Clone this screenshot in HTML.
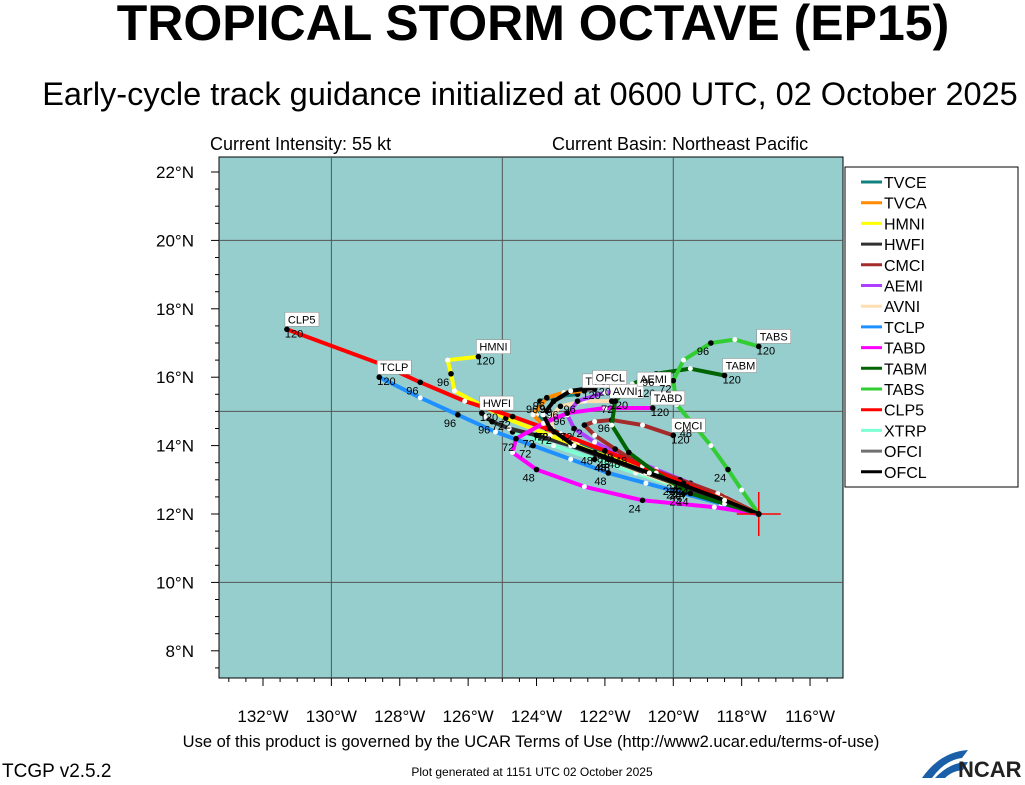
<!DOCTYPE html>
<html><head><meta charset="utf-8"><style>
body{margin:0;background:#fff;width:1025px;height:780px;overflow:hidden;font-family:"Liberation Sans",sans-serif}
svg text{font-family:"Liberation Sans",sans-serif}
</style></head><body>
<svg id="chart" width="1025" height="780" viewBox="0 0 1025 780">
<text x="533" y="40" text-anchor="middle" font-size="50" font-weight="bold">TROPICAL STORM OCTAVE (EP15)</text>
<text x="530" y="105" text-anchor="middle" font-size="32.5">Early-cycle track guidance initialized at 0600 UTC, 02 October 2025</text>
<text x="210" y="150" font-size="18">Current Intensity: 55 kt</text>
<text x="552" y="150" font-size="18">Current Basin: Northeast Pacific</text>
<rect x="219" y="157" width="624" height="521" fill="#96cece" stroke="#000"/>
<g id="grid"></g><g id="axes"></g><g id="tracks"></g><g id="labels"></g>
<g id="legend"><rect x="845" y="167" width="173" height="320" fill="#fff" stroke="#000"/></g>
<text x="531" y="747" text-anchor="middle" font-size="16.5">Use of this product is governed by the UCAR Terms of Use (http://www2.ucar.edu/terms-of-use)</text>
<text x="2" y="777" font-size="19">TCGP v2.5.2</text>
<text x="532" y="776" text-anchor="middle" font-size="12">Plot generated at 1151 UTC   02 October 2025</text>
<g><path d="M922 778 Q940 752 968 750 L962 758 Q945 760 932 778Z" fill="#1a5fa8"/><path d="M935 778 Q950 762 968 762 L963 770 Q952 771 945 778Z" fill="#1a5fa8"/><text x="958" y="777" font-size="22" font-weight="bold" fill="#222">NCAR</text></g>
</svg>
<script>
const names=["TVCE","TVCA","HMNI","HWFI","CMCI","AEMI","AVNI","TCLP","TABD","TABM","TABS","CLP5","XTRP","OFCI","OFCL"];
const colors=["#138080","#ff8c00","#ffff00","#303030","#a52a2a","#b040ff","#ffdeb0","#1e90ff","#ff00ff","#006400","#32cd32","#ff0000","#7fffd4","#707070","#000000"];
const lonTVCE=[117.5,118.6,119.7,120.8,121.8,122.8,123.6,124.0,123.9,123.4,122.8];
const latTVCE=[12,12.4,12.8,13.2,13.7,14.1,14.5,14.9,15.3,15.45,15.5];
const lonTVCA=[117.5,118.6,119.7,120.8,121.9,122.9,123.7,124.1,123.7,123.2,122.6];
const latTVCA=[12,12.4,12.8,13.2,13.6,14.0,14.5,14.9,15.4,15.55,15.6];
const lonHMNI=[117.5,118.7,119.9,121.1,122.3,123.6,124.9,126.4,126.5,126.6,125.7];
const latHMNI=[12,12.5,12.9,13.4,13.8,14.3,14.8,15.6,16.1,16.5,16.6];
const lonHWFI=[117.5,118.6,119.7,120.8,121.9,123.0,124.0,124.8,125.3,125.5,125.6];
const latHWFI=[12,12.4,12.8,13.2,13.6,14.0,14.3,14.5,14.7,14.85,14.95];
const lonCMCI=[117.5,118.7,119.8,120.9,121.7,122.3,122.6,122.3,121.8,120.9,120.0];
const latCMCI=[12,12.6,13.0,13.4,13.9,14.3,14.6,14.7,14.75,14.6,14.3];
const lonAEMI=[117.5,118.5,119.5,120.5,121.5,122.3,122.9,123.1,122.8,122.0,121.0];
const latAEMI=[12,12.5,12.9,13.3,13.7,14.1,14.5,14.9,15.3,15.55,15.65];
const lonAVNI=[117.5,118.7,119.8,120.9,121.9,122.8,123.5,123.6,123.3,122.6,121.8];
const latAVNI=[12,12.4,12.8,13.2,13.6,14.0,14.4,14.8,15.15,15.3,15.3];
const lonTCLP=[117.5,118.6,119.7,120.8,121.9,123.0,124.1,125.2,126.3,127.4,128.6];
const latTCLP=[12,12.3,12.6,12.9,13.2,13.6,14.0,14.4,14.9,15.4,16.0];
const lonTABD=[117.5,118.8,120.9,122.6,124.0,124.7,124.6,123.8,123.1,122.0,120.6];
const latTABD=[12,12.2,12.4,12.8,13.3,13.8,14.2,14.65,14.95,15.1,15.1];
const lonTABM=[117.5,118.5,119.5,120.5,121.3,121.8,121.7,121.2,120.5,119.5,118.5];
const latTABM=[12,12.3,12.6,13.2,13.8,14.6,15.3,15.8,16.1,16.25,16.05];
const lonTABS=[117.5,118.0,118.4,118.9,119.4,119.9,120.0,119.7,118.9,118.2,117.5];
const latTABS=[12,12.7,13.3,14.0,14.6,15.2,15.9,16.5,17.0,17.1,16.9];
const lonCLP5=[117.5,118.6,119.7,120.9,122.0,123.3,124.7,126.1,127.4,128.6,131.3];
const latCLP5=[12,12.45,12.9,13.4,13.85,14.35,14.85,15.3,15.85,16.4,17.4];
const lonXTRP=[117.5,118.7,119.9,121.1,122.3,123.5,124.7];
const latXTRP=[12,12.4,12.8,13.2,13.6,14.0,14.4];
const lonOFCI=[117.5,118.5,119.6,120.7,121.8,122.9,123.6,123.8,123.5,123.0,122.3];
const latOFCI=[12,12.4,12.8,13.2,13.6,14.0,14.5,14.9,15.3,15.55,15.65];
const lonOFCL=[117.5,118.5,119.6,120.7,121.8,122.9,123.6,123.8,123.5,123.0,122.3];
const latOFCL=[12,12.4,12.8,13.2,13.6,14.0,14.5,14.9,15.3,15.6,15.7];
const lonTicks=[132,130,128,126,124,122,120,118,116];
const latTicks=[22,20,18,16,14,12,10,8];
const lons=[lonTVCE,lonTVCA,lonHMNI,lonHWFI,lonCMCI,lonAEMI,lonAVNI,lonTCLP,lonTABD,lonTABM,lonTABS,lonCLP5,lonXTRP,lonOFCI,lonOFCL];
const lats=[latTVCE,latTVCA,latHMNI,latHWFI,latCMCI,latAEMI,latAVNI,latTCLP,latTABD,latTABM,latTABS,latCLP5,latXTRP,latOFCI,latOFCL];
const labeled={"TVCA":1,"HMNI":1,"HWFI":1,"CMCI":1,"AVNI":1,"TCLP":1,"TABD":1,"TABM":1,"TABS":1,"CLP5":1,"OFCL":1,"AEMI":1};
const X=w=>263+(132-w)*34.19, Y=l=>172+(22-l)*34.2;
const NS="http://www.w3.org/2000/svg";
function mk(t,a,p){const e=document.createElementNS(NS,t);for(const k in a)e.setAttribute(k,a[k]);p.appendChild(e);return e;}
const grid=document.getElementById('grid'),axes=document.getElementById('axes'),tr=document.getElementById('tracks'),lb=document.getElementById('labels'),lg=document.getElementById('legend');
[130,125,120].forEach(w=>{const e=mk('line',{x1:X(w),x2:X(w),y1:157,y2:678,stroke:'#555','stroke-width':1},grid);

});
[20,15,10].forEach(l=>{const e=mk('line',{x1:219,x2:843,y1:Y(l),y2:Y(l),stroke:'#555','stroke-width':1},grid);

});
for(let w=133;w>=115;w-=0.5){const x=X(w);if(x<219||x>843)continue;const L=(w%2===0)?8:4;mk('line',{x1:x,x2:x,y1:678,y2:678+L,stroke:'#000'},axes);}
for(let l=7;l<=22.5;l+=0.5){const y=Y(l);if(y<157||y>678)continue;const L=(l%2===0)?8:4;mk('line',{x1:219-L,x2:219,y1:y,y2:y,stroke:'#000'},axes);}
lonTicks.forEach(w=>{const t=mk('text',{x:X(w),y:722,'text-anchor':'middle','font-size':17},axes);t.textContent=w+'°W';

});
latTicks.forEach(l=>{const t=mk('text',{x:194,y:Y(l)+6,'text-anchor':'end','font-size':17},axes);t.textContent=l+'°N';

});
const order=[12,13,0,1,6,5,3,4,7,2,11,8,9,10,14];
order.forEach(i=>{const pts=lons[i].map((w,k)=>X(w)+','+Y(lats[i][k])).join(' ');
const p=mk('polyline',{points:pts,fill:'none',stroke:colors[i],'stroke-width':4,'stroke-linejoin':'round'},tr);


lons[i].forEach((w,k)=>{if(k===0)return;const odd=k%2===1;mk('circle',{cx:X(w),cy:Y(lats[i][k]),r:odd?2.5:2.8,fill:odd?'#fff':'#000'},tr);
if(!odd&&(k===2||k===4||k===6||k===8)&&i!==12){const t=mk('text',{x:X(w)-14,y:Y(lats[i][k])+12,'font-size':11},lb);t.textContent=String(k*12);}});
if(labeled[names[i]]){const n=lons[i].length-1,x=X(lons[i][n]),y=Y(lats[i][n]);
const g=mk('g',{},lb);


mk('rect',{x:x-2,y:y-17,width:34,height:14,fill:'#fff',stroke:'#888','stroke-width':0.5},g);
const t=mk('text',{x:x+1,y:y-6,'font-size':11},g);t.textContent=names[i];
const t2=mk('text',{x:x-2,y:y+8,'font-size':11},g);t2.textContent='120';}});
const cx=X(117.5),cy=Y(12);
mk('line',{x1:cx-22,x2:cx+22,y1:cy,y2:cy,stroke:'#f00','stroke-width':1.5},tr);
mk('line',{x1:cx,x2:cx,y1:cy-22,y2:cy+22,stroke:'#f00','stroke-width':1.5},tr);
mk('circle',{cx:cx,cy:cy,r:3,fill:'#000'},tr);
names.forEach((n,i)=>{const y=182+i*20.7;const g=mk('g',{},lg);


mk('line',{x1:861,x2:882,y1:y,y2:y,stroke:colors[i],'stroke-width':3},g);
const t=mk('text',{x:884,y:y+6,'font-size':16},g);t.textContent=n;});
</script>
</body></html>
